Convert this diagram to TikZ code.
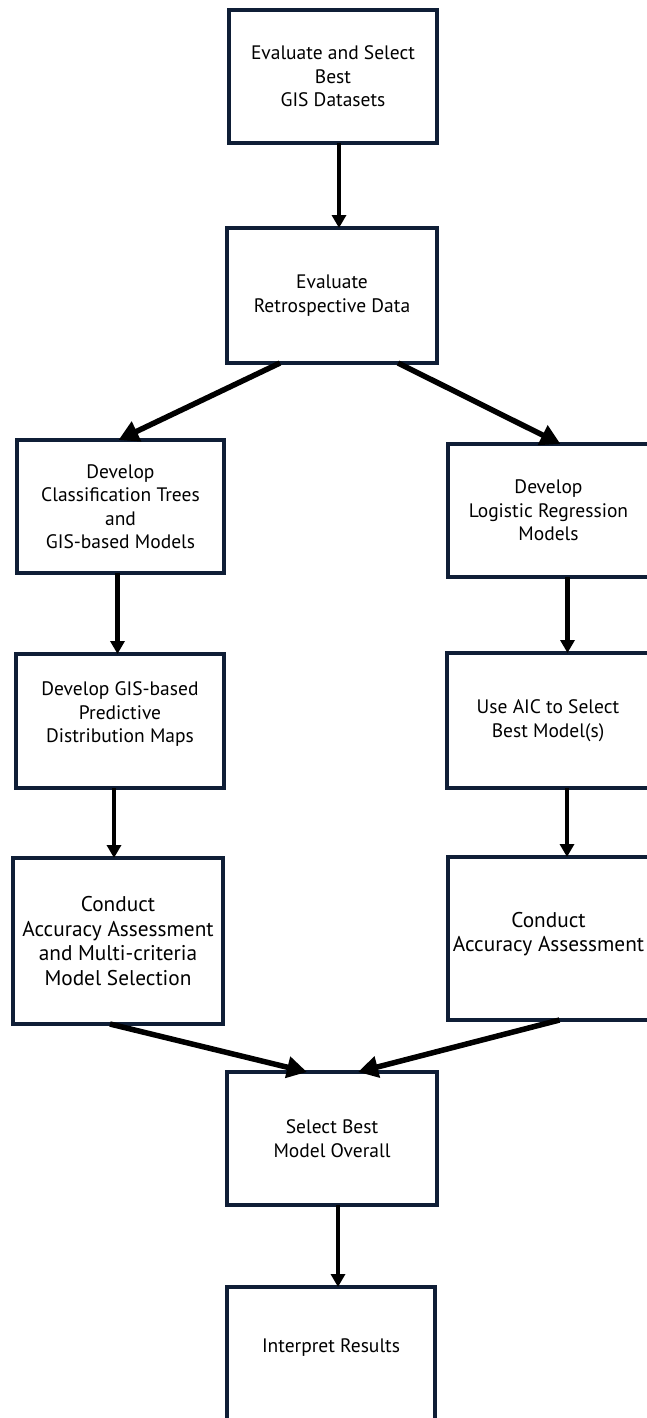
\documentclass[tikz,border=0pt]{standalone}
\usepackage{fontspec}
\setmainfont{PT Sans}
\usetikzlibrary{arrows.meta}
\definecolor{boxnavy}{HTML}{0F1E36}
\begin{document}
\begin{tikzpicture}[x=1pt,y=-1pt,
  box/.style={draw=boxnavy, line width=3.2pt, fill=white, anchor=north west, align=center,
    font=\fontsize{19.5}{23.5}\selectfont, inner sep=0pt, outer sep=0pt},
  bigtext/.style={font=\fontsize{21.3}{24.8}\selectfont},
  varrow/.style={line width=4.5pt, -{Triangle[length=13pt,width=14pt]}},
  darrow/.style={line width=5.5pt, -{Triangle[length=20pt,width=21pt]}}]
\useasboundingbox[fill=white] (0,0) rectangle (647,1418);

\node[box, minimum width=208pt, minimum height=133pt] (n1) at (229,10) {Evaluate and Select\\Best\\GIS Datasets};
\node[box, minimum width=210pt, minimum height=135pt] (n2) at (227,228) {Evaluate\\Retrospective Data};
\node[box, minimum width=207pt, minimum height=133pt] (n3) at (17,440) {Develop\\Classification Trees\\and\\GIS-based Models};
\node[box, minimum width=201pt, minimum height=133pt] (n4) at (448,444) {Develop\\Logistic Regression\\Models};
\node[box, minimum width=208pt, minimum height=134pt, text depth=17pt] (n5) at (16,654) {Develop GIS-based\\Predictive\\Distribution Maps};
\node[box, minimum width=202pt, minimum height=135pt] (n6) at (447,653) {Use AIC to Select\\Best Model(s)};
\node[box, bigtext, minimum width=210pt, minimum height=166pt] (n7) at (13,858) {Conduct\\Accuracy Assessment\\and Multi-criteria\\Model Selection};
\node[box, bigtext, minimum width=201pt, minimum height=163pt, text depth=13pt] (n8) at (448,857) {Conduct\\Accuracy Assessment};
\node[box, minimum width=210pt, minimum height=133pt] (n9) at (227,1072) {Select Best\\Model Overall};
\node[box, minimum width=208pt, minimum height=140pt, text depth=23pt] (n10) at (227,1287) {Interpret Results};

\draw[varrow] ([xshift=6pt]n1.south) -- ([xshift=6pt]n1.south |- n2.north);
\draw[darrow] ([xshift=-52pt]n2.south) -- ([xshift=-2pt]n3.north);
\draw[darrow] ([xshift=66pt]n2.south) -- ([xshift=12pt]n4.north);
\draw[varrow] ([xshift=-3pt]n3.south) -- ([xshift=-3pt]n3.south |- n5.north);
\draw[varrow] ([xshift=-6pt]n5.south) -- ([xshift=-6pt]n5.south |- n7.north);
\draw[varrow] ([xshift=19pt]n4.south) -- ([xshift=19pt]n4.south |- n6.north);
\draw[varrow] ([xshift=19pt]n6.south) -- ([xshift=19pt]n6.south |- n8.north);
\draw[darrow] ([xshift=-8pt]n7.south) -- ([xshift=-25pt]n9.north);
\draw[darrow] ([xshift=11pt]n8.south) -- ([xshift=26pt]n9.north);
\draw[varrow] ([xshift=6pt]n9.south) -- ([xshift=6pt]n9.south |- n10.north);
\end{tikzpicture}
\end{document}
